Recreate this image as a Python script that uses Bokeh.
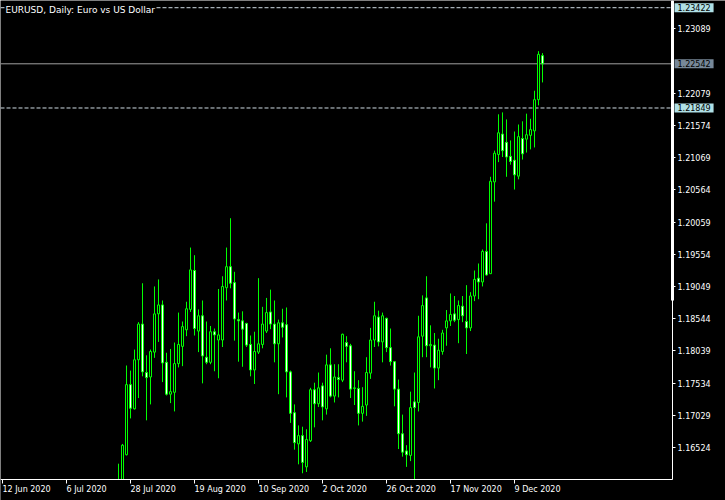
import numpy as np
import pandas as pd
from bokeh.plotting import figure
from bokeh.models import (ColumnDataSource, LinearAxis, FixedTicker, PrintfTickFormatter,
                          Label, Range1d)
from bokeh.embed import file_html
from bokeh.resources import INLINE

# ---------------- data ----------------
chart_title = "EURUSD, Daily: Euro vs US Dollar"
chart_start_date = "2020-06-12"      # first bar of the chart (index 0)
first_candle_date = "2020-07-23"     # first candle that reaches the visible price range

opens = [1.1568, 1.1597, 1.1641, 1.1751, 1.1713, 1.1790, 1.1846, 1.1770, 1.1763, 1.1802,
         1.1862, 1.1876, 1.1786, 1.1736, 1.1739, 1.1784, 1.1811, 1.1837, 1.1869, 1.1930,
         1.1835, 1.1859, 1.1794, 1.1786, 1.1834, 1.1821, 1.1821, 1.1903, 1.1936, 1.1911,
         1.1853, 1.1851, 1.1847, 1.1814, 1.1774, 1.1802, 1.1814, 1.1835, 1.1865, 1.1846,
         1.1815, 1.1848, 1.1845, 1.1771, 1.1707, 1.1658, 1.1671, 1.1622, 1.1663, 1.1743,
         1.1721, 1.1749, 1.1713, 1.1782, 1.1733, 1.1762, 1.1758, 1.1817, 1.1812, 1.1745,
         1.1745, 1.1706, 1.1719, 1.1769, 1.1821, 1.1857, 1.1818, 1.1855, 1.1809, 1.1787,
         1.1744, 1.1674, 1.1647, 1.1640, 1.1724, 1.1723, 1.1827, 1.1887, 1.1812, 1.1813,
         1.1777, 1.1803, 1.1840, 1.1851, 1.1862, 1.1853, 1.1874, 1.1850, 1.1840, 1.1890,
         1.1918, 1.1912, 1.1960, 1.1925, 1.2069, 1.2112, 1.2144, 1.2131, 1.2109, 1.2103,
         1.2078, 1.2137, 1.2136, 1.2142, 1.2149, 1.2198, 1.2267]
highs = [1.1627, 1.1658, 1.1781, 1.1773, 1.1806, 1.1849, 1.1910, 1.1797, 1.1806, 1.1905,
         1.1916, 1.1883, 1.1801, 1.1807, 1.1817, 1.1864, 1.1850, 1.1881, 1.1966, 1.1954,
         1.1869, 1.1883, 1.1850, 1.1843, 1.1839, 1.1901, 1.1921, 1.1966, 1.2012, 1.1928,
         1.1864, 1.1866, 1.1848, 1.1828, 1.1834, 1.1918, 1.1873, 1.1887, 1.1900, 1.1883,
         1.1853, 1.1870, 1.1872, 1.1773, 1.1720, 1.1687, 1.1685, 1.1681, 1.1746, 1.1754,
         1.1770, 1.1754, 1.1798, 1.1808, 1.1783, 1.1783, 1.1831, 1.1827, 1.1815, 1.1772,
         1.1758, 1.1747, 1.1794, 1.1840, 1.1881, 1.1867, 1.1864, 1.1856, 1.1839, 1.1788,
         1.1759, 1.1704, 1.1656, 1.1740, 1.1770, 1.1859, 1.1891, 1.1921, 1.1844, 1.1832,
         1.1823, 1.1837, 1.1868, 1.1894, 1.1890, 1.1883, 1.1890, 1.1907, 1.1896, 1.1930,
         1.1941, 1.1963, 1.2004, 1.2077, 1.2118, 1.2175, 1.2178, 1.2167, 1.2134, 1.2148,
         1.2159, 1.2164, 1.2176, 1.2168, 1.2212, 1.2274, 1.2271]
lows = [1.1540, 1.1588, 1.1640, 1.1698, 1.1712, 1.1730, 1.1764, 1.1695, 1.1720, 1.1793,
        1.1818, 1.1755, 1.1734, 1.1722, 1.1709, 1.1778, 1.1780, 1.1827, 1.1865, 1.1828,
        1.1802, 1.1753, 1.1783, 1.1783, 1.1772, 1.1761, 1.1810, 1.1883, 1.1902, 1.1820,
        1.1787, 1.1779, 1.1810, 1.1764, 1.1752, 1.1799, 1.1808, 1.1832, 1.1838, 1.1786,
        1.1736, 1.1825, 1.1731, 1.1691, 1.1649, 1.1626, 1.1612, 1.1614, 1.1661, 1.1684,
        1.1716, 1.1695, 1.1704, 1.1731, 1.1723, 1.1731, 1.1755, 1.1786, 1.1730, 1.1719,
        1.1687, 1.1693, 1.1702, 1.1760, 1.1810, 1.1811, 1.1786, 1.1802, 1.1781, 1.1717,
        1.1650, 1.1638, 1.1622, 1.1631, 1.1603, 1.1709, 1.1794, 1.1794, 1.1778, 1.1745,
        1.1758, 1.1798, 1.1812, 1.1843, 1.1849, 1.1816, 1.1849, 1.1799, 1.1835, 1.1882,
        1.1885, 1.1905, 1.1922, 1.1925, 1.2038, 1.2100, 1.2108, 1.2077, 1.2096, 1.2057,
        1.2073, 1.2104, 1.2115, 1.2120, 1.2123, 1.2189, 1.2225]
closes = [1.1596, 1.1656, 1.1751, 1.1714, 1.1790, 1.1846, 1.1771, 1.1762, 1.1803, 1.1862,
          1.1876, 1.1785, 1.1736, 1.1740, 1.1784, 1.1814, 1.1842, 1.1870, 1.1931, 1.1839,
          1.1859, 1.1796, 1.1786, 1.1834, 1.1829, 1.1829, 1.1905, 1.1936, 1.1910, 1.1854,
          1.1851, 1.1838, 1.1813, 1.1774, 1.1803, 1.1815, 1.1846, 1.1864, 1.1846, 1.1815,
          1.1848, 1.1841, 1.1771, 1.1706, 1.1660, 1.1671, 1.1629, 1.1665, 1.1743, 1.1721,
          1.1746, 1.1716, 1.1782, 1.1733, 1.1763, 1.1759, 1.1830, 1.1811, 1.1744, 1.1746,
          1.1706, 1.1717, 1.1770, 1.1821, 1.1859, 1.1818, 1.1859, 1.1809, 1.1787, 1.1744,
          1.1674, 1.1645, 1.1641, 1.1715, 1.1715, 1.1826, 1.1875, 1.1812, 1.1814, 1.1777,
          1.1805, 1.1832, 1.1851, 1.1861, 1.1852, 1.1875, 1.1859, 1.1840, 1.1890, 1.1916,
          1.1912, 1.1960, 1.1923, 1.2070, 1.2114, 1.2146, 1.2118, 1.2108, 1.2101, 1.2080,
          1.2140, 1.2113, 1.2143, 1.2151, 1.2198, 1.2269, 1.22542]

tick_dates = ["2020-06-12", "2020-07-06", "2020-07-28", "2020-08-19", "2020-09-10",
              "2020-10-02", "2020-10-26", "2020-11-17", "2020-12-09"]
tick_labels = ["12 Jun 2020", "6 Jul 2020", "28 Jul 2020", "19 Aug 2020", "10 Sep 2020",
               "2 Oct 2020", "26 Oct 2020", "17 Nov 2020", "9 Dec 2020"]
price_ticks = [1.16524, 1.17029, 1.17534, 1.18039, 1.18544, 1.19049, 1.19554,
               1.20059, 1.20564, 1.21069, 1.21574, 1.22079, 1.23089]
level_upper = 1.23422
level_lower = 1.21849
bid_price = 1.22542
scale_mark_price = 1.1883     # lower end of the thick marker on the price scale

# ---------------- layout ----------------
W, H = 725, 500
px_per_bar = 4.0
x_start = -0.5
x_end = x_start + W / px_per_bar
AXIS_X_PX = 672                       # price-scale line, pixels from the left
axis_x = x_start + AXIS_X_PX / px_per_bar
price_top = 1.23535                   # price at the top edge
price_axis = 1.16022                  # price at the time-axis line
AXIS_Y_PX = 479                       # time-axis line, pixels from the top
ppu = AXIS_Y_PX / (price_top - price_axis)
price_min = price_axis - (H - AXIS_Y_PX) / ppu

GREEN = "#00ff00"
FONT = "DejaVu Sans"

dates = pd.bdate_range(first_candle_date, periods=len(opens))
bar_x = np.busday_count(np.datetime64(chart_start_date),
                        dates.values.astype("datetime64[D]"))
tick_x = np.busday_count(np.datetime64(chart_start_date),
                         np.array(tick_dates, dtype="datetime64[D]"))

o = np.array(opens); c = np.array(closes)
src = ColumnDataSource(dict(
    x=bar_x, high=highs, low=lows,
    top=np.maximum(o, c), bottom=np.minimum(o, c),
    fill=["black" if cc >= oo else "white" for oo, cc in zip(opens, closes)],
))

p = figure(width=W, height=H, x_range=Range1d(x_start, x_end),
           y_range=Range1d(price_min, price_top),
           x_axis_location=None, y_axis_location=None,
           toolbar_location=None, output_backend="svg",
           background_fill_color="black", border_fill_color="black",
           min_border_left=0, min_border_top=0,
           min_border_right=0, min_border_bottom=0)
p.outline_line_color = None
for g in p.grid:
    g.visible = False

# horizontal levels (from the left edge to the price scale)
for loc, col, dash in [(level_upper, "#d0dce4", "4 2"),
                       (level_lower, "#d0dce4", "4 2"),
                       (bid_price, "#a0a0a0", "solid")]:
    p.segment(x0=[x_start], y0=[loc], x1=[axis_x], y1=[loc],
              line_color=col, line_width=1, line_dash=dash)

# candles
p.segment(x0="x", y0="low", x1="x", y1="high", source=src,
          line_color=GREEN, line_width=1)
p.vbar(x="x", top="top", bottom="bottom", width=2.0 / px_per_bar, source=src,
       fill_color="fill", line_color=GREEN, line_width=1)

# hide what lies below the time axis
p.quad(left=[x_start], right=[x_end], bottom=[price_min], top=[price_axis],
       fill_color="black", line_color=None)

# thick marker on the price scale
p.quad(left=[axis_x - 1.5 / px_per_bar], right=[axis_x + 1.5 / px_per_bar],
       bottom=[scale_mark_price], top=[price_top],
       fill_color="white", line_color=None)

# axes
yaxis = LinearAxis(ticker=FixedTicker(ticks=price_ticks),
                   formatter=PrintfTickFormatter(format="%.5f"),
                   fixed_location=axis_x, bounds=(price_axis, price_top),
                   axis_line_color="white", major_tick_line_color="white",
                   major_tick_in=0, major_tick_out=3, minor_tick_line_color=None,
                   major_label_text_color="white", major_label_text_font=FONT,
                   major_label_text_font_size="8px", major_label_standoff=2)
p.add_layout(yaxis, "right")

xaxis = LinearAxis(ticker=FixedTicker(ticks=list(tick_x)),
                   fixed_location=price_axis, bounds=(x_start, axis_x),
                   axis_line_color="white", major_tick_line_color="white",
                   major_tick_in=0, major_tick_out=4, minor_tick_line_color=None,
                   major_label_text_color=None, major_label_text_font_size="1px",
                   major_label_standoff=0)
p.add_layout(xaxis, "below")

for tx, lab in zip(tick_x, tick_labels):
    p.add_layout(Label(x=float(tx), y=price_axis, text=lab, text_align="left",
                       text_baseline="top", y_offset=-5, text_color="white",
                       text_font=FONT, text_font_size="8px"))

# price boxes on the scale
for loc, bg in [(level_upper, "#b0e0e6"), (level_lower, "#b0e0e6"), (bid_price, "#778899")]:
    p.add_layout(Label(x=axis_x, y=loc, text=f"{loc:.5f}", x_offset=2,
                       text_align="left", text_baseline="middle",
                       text_color="black", text_font=FONT, text_font_size="8px",
                       background_fill_color=bg, padding=(3, 1)))

# title
p.add_layout(Label(x=x_start, y=price_top, text=chart_title, x_offset=5, y_offset=-4,
                   text_align="left", text_baseline="top", text_color="white",
                   text_font=FONT, text_font_size="9px",
                   background_fill_color="black"))

open("out.html", "w").write(file_html(p, INLINE))
